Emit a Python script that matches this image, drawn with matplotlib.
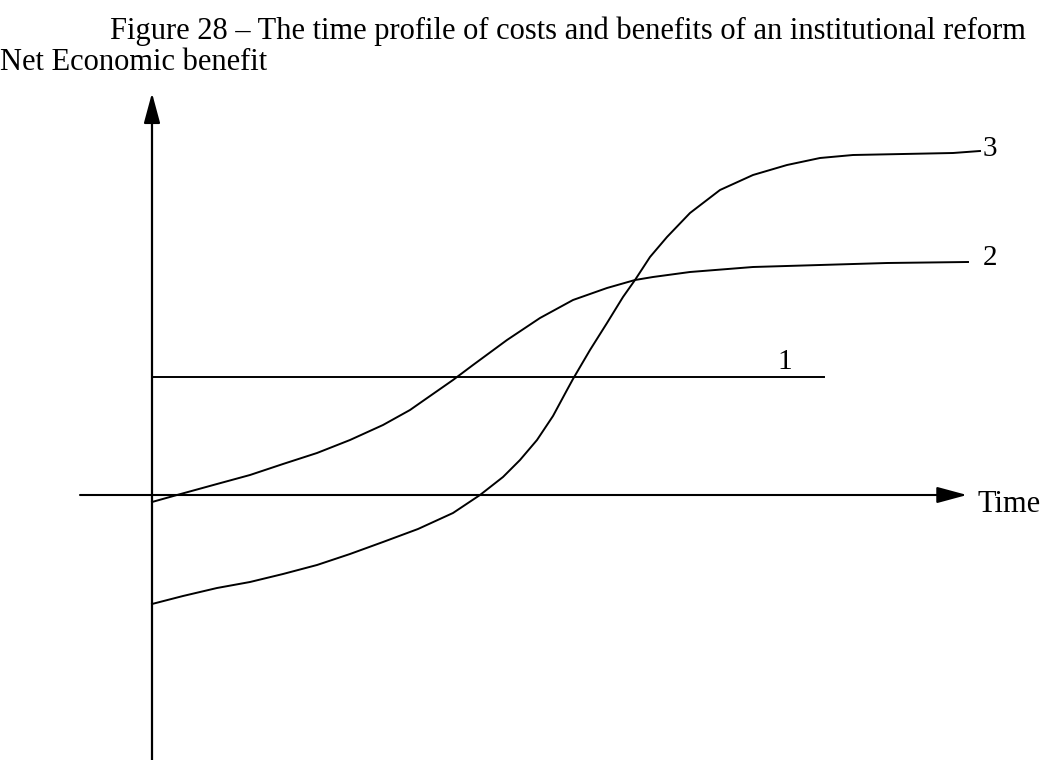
import matplotlib.pyplot as plt
from matplotlib.patches import FancyArrowPatch

plt.rcParams['font.family'] = ['Liberation Serif', 'DejaVu Serif']

# schematic values (time, net benefit)
reform_1_time = [0, 672]
reform_1_benefit = [118, 118]

reform_2_time = [0, 25, 65, 98, 131, 165, 198, 231, 258, 268, 301, 321, 355, 388, 421, 455, 483,
                 501, 538, 601, 668, 735, 816]
reform_2_benefit = [-7, 0, 11, 20, 31, 42, 55, 70, 85, 92, 115, 130, 155, 177, 195, 207, 215,
                    218, 223, 228, 230, 232, 233]

reform_3_time = [0, 31, 65, 98, 131, 165, 198, 231, 266, 301, 328, 351, 368, 385, 401, 415, 421,
                 438, 455, 471, 483, 498, 515, 538, 568, 601, 635, 668, 701, 751, 801, 828]
reform_3_benefit = [-109, -101, -93, -87, -79, -70, -59, -47, -34, -18, 0, 18, 35, 55, 79, 105, 116,
                    145, 172, 198, 215, 238, 258, 282, 305, 320, 330, 337, 340, 341, 342, 344]

fig = plt.figure(figsize=(10.5, 7.6), dpi=100)
ax = fig.add_axes([0, 0, 1, 1])
ax.set_xlim(-152, 898)
ax.set_ylim(-265, 495)
ax.axis('off')

# axes with arrow heads
arrow_style = '-|>,head_length=1.85,head_width=0.5'
ax.add_patch(FancyArrowPatch((0, -270), (0, 402), arrowstyle=arrow_style, mutation_scale=10,
                             color='black', lw=1.6, shrinkA=0, shrinkB=0))
ax.add_patch(FancyArrowPatch((-72, 0), (815, 0), arrowstyle=arrow_style, mutation_scale=10,
                             color='black', lw=1.5, shrinkA=0, shrinkB=0))

ax.plot(reform_1_time, reform_1_benefit, color='black', lw=1.4)
ax.plot(reform_2_time, reform_2_benefit, color='black', lw=1.4, solid_joinstyle='round')
ax.plot(reform_3_time, reform_3_benefit, color='black', lw=1.4, solid_joinstyle='round')

ax.text(633, 120, '1', fontsize=21, ha='center', va='bottom')
ax.text(838, reform_2_benefit[-1] + 4, '2', fontsize=21, ha='center', va='center')
ax.text(838, reform_3_benefit[-1] + 2, '3', fontsize=21, ha='center', va='center')
ax.text(826, -10, 'Time', fontsize=22, ha='left', va='center')
ax.text(-152, 432, 'Net Economic benefit', fontsize=22, ha='left', va='center')
ax.text(416, 464, 'Figure 28 \u2013 The time profile of costs and benefits of an institutional reform',
        fontsize=22, ha='center', va='center')

fig.savefig('out.png', dpi=100)
